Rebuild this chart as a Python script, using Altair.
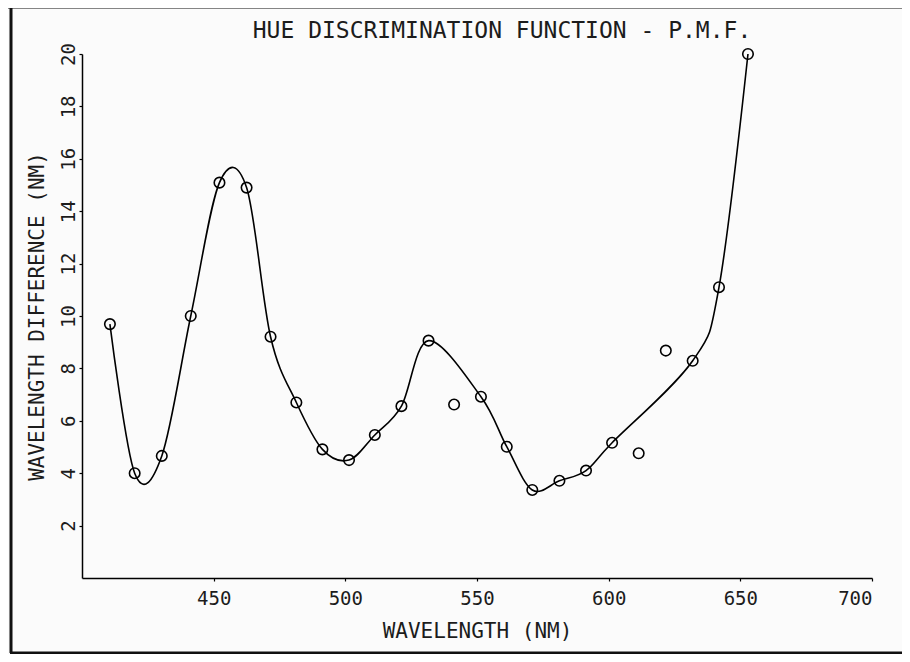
import altair as alt
import pandas as pd

# values
wavelength = [410.6, 420.0, 430.3, 441.3, 452.2, 462.5, 471.6, 481.4, 491.3, 501.4,
              511.2, 521.3, 531.6, 541.3, 551.5, 561.3, 571.0, 581.3, 591.4, 601.3,
              611.4, 621.7, 631.9, 641.9, 652.9]
difference = [9.69, 4.00, 4.66, 10.00, 15.09, 14.90, 9.21, 6.70, 4.91, 4.50,
              5.46, 6.56, 9.06, 6.62, 6.92, 5.01, 3.36, 3.71, 4.10, 5.16,
              4.76, 8.68, 8.29, 11.10, 20.00]
on_curve = [True, True, True, True, True, True, True, True, True, True,
            True, True, True, False, True, True, True, True, True, True,
            False, False, True, True, True]

x_ticks = [450, 500, 550, 600, 650, 700]
y_ticks = [2, 4, 6, 8, 10, 12, 14, 16, 18, 20]

df = pd.DataFrame({"wl": wavelength, "diff": difference, "fit": on_curve})
curve_df = df[df["fit"]]

FONT = "DejaVu Sans Mono"
INK = "#1c1c1c"

x_enc = alt.X("wl:Q", scale=alt.Scale(domain=[400, 700], nice=False, zero=False),
              axis=alt.Axis(values=x_ticks, title="WAVELENGTH (NM)", grid=False,
                            tickSize=3, labelPadding=8, titlePadding=12,
                            labelFontSize=19, titleFontSize=21))
y_enc = alt.Y("diff:Q", scale=alt.Scale(domain=[0, 20], nice=False),
              axis=alt.Axis(values=y_ticks, title="WAVELENGTH DIFFERENCE (NM)", grid=False,
                            tickSize=3, labelPadding=1, labelAngle=270,
                            labelAlign="center", labelBaseline="bottom",
                            titlePadding=12, labelFontSize=19, titleFontSize=21))

line = alt.Chart(curve_df).mark_line(interpolate="cardinal", tension=0, color="black",
                                     strokeWidth=1.6).encode(x=x_enc, y=y_enc)
points = alt.Chart(df).mark_point(shape="circle", filled=False, color="black",
                                  size=110, strokeWidth=1.6, opacity=1).encode(x="wl:Q", y="diff:Q")

frame_src = alt.Chart(pd.DataFrame({"k": [0]}))
top_edge = frame_src.mark_rule(color="#111", strokeWidth=3).encode(
    x=alt.value(-74), x2=alt.value(820), y=alt.value(-47))
left_edge = frame_src.mark_rule(color="#111", strokeWidth=3).encode(
    x=alt.value(-71), y=alt.value(-47), y2=alt.value(599))
bottom_edge = frame_src.mark_rule(color="#111", strokeWidth=3).encode(
    x=alt.value(-72), x2=alt.value(820), y=alt.value(599))

chart = alt.layer(line, points, top_edge, left_edge, bottom_edge).properties(
    width=790, height=524,
    title=alt.TitleParams("HUE DISCRIMINATION FUNCTION - P.M.F.", font=FONT,
                          fontSize=23, fontWeight="normal", color=INK, dx=25,
                          offset=0, dy=37),
    autosize=alt.AutoSizeParams(type="none"),
    padding={"left": 74, "top": 46, "right": 30, "bottom": 76},
    background="#fbfbfb",
).configure_view(stroke=None).configure_axis(
    labelFont=FONT, titleFont=FONT, labelColor=INK, titleColor=INK,
    titleFontWeight="normal", domainColor="black", tickColor="black",
    domainWidth=1.5, tickWidth=1.2,
)

chart.save("out.html", embed_options={"renderer": "svg", "actions": False})
